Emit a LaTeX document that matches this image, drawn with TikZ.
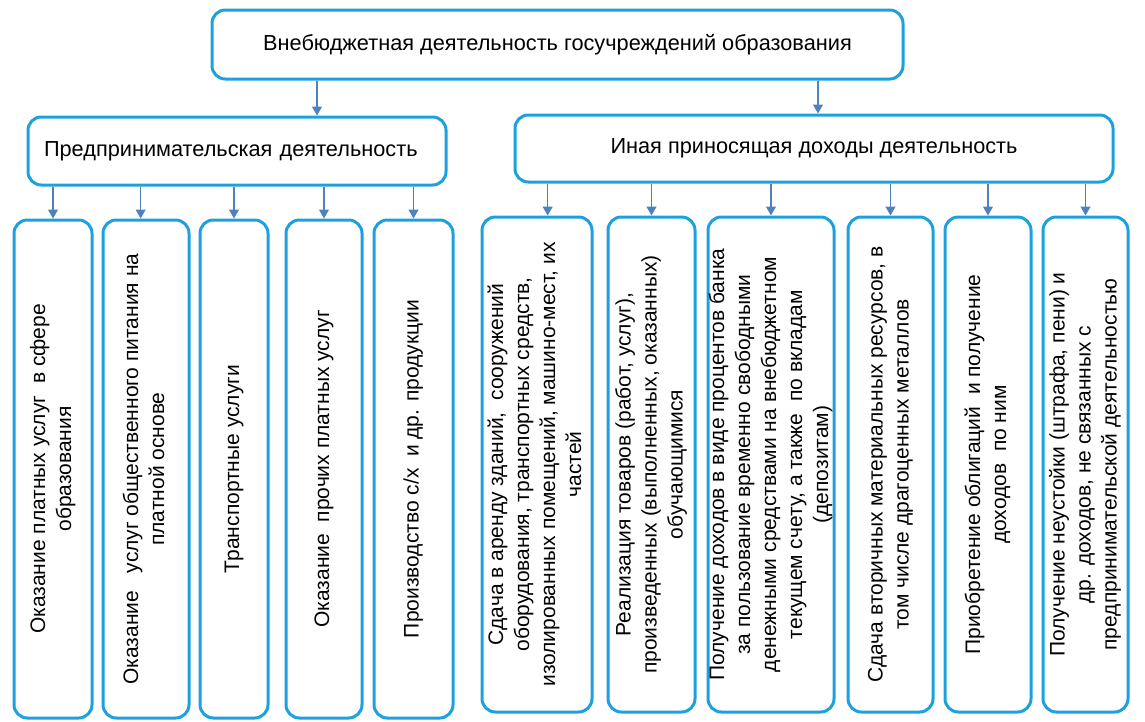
\documentclass[tikz,border=0pt]{standalone}
\usepackage{fontspec}
\setmainfont{Liberation Sans}
\usetikzlibrary{arrows.meta}
\definecolor{boxblue}{RGB}{29,161,222}
\definecolor{arrblue}{RGB}{79,129,189}
\newcommand{\vlines}[1]{\makebox[0pt]{\rotatebox{90}{\begin{tabular}{@{}c@{}}#1\end{tabular}}}}
\begin{document}
\begin{tikzpicture}[x=0.75pt,y=-0.75pt,
  box/.style={draw=boxblue, line width=2.25pt, rounded corners=10pt, inner sep=0pt, font=\fontsize{16.3pt}{19pt}\selectfont},
  leaf/.style={box, minimum height=373.5pt, font=\fontsize{15.75pt}{19.5pt}\selectfont},
  arr/.style={draw=arrblue, line width=0.9pt, -{Triangle[length=6.75pt,width=7.5pt]}}]
\useasboundingbox (0,0) rectangle (1145,721);
\node[box, minimum width=518.25pt, minimum height=51.75pt] (bid0) at (557.5,44.5){Внебюджетная деятельность госучреждений образования};
\node[box, minimum width=313.5pt, minimum height=51pt, text width=289.5pt, align=left, inner xsep=12pt] (bid1) at (237,151){Предпринимательская деятельность};
\node[box, minimum width=448.5pt, minimum height=50.25pt] (bid2) at (814,148.5){Иная приносящая доходы деятельность};
\draw[arr]([xshift=60pt]bid1.north |- bid0.south) -- ([xshift=60pt]bid1.north);
\draw[arr]([xshift=3pt]bid2.north |- bid0.south) -- ([xshift=3pt]bid2.north);
% предпринимательская
\node[leaf, minimum width=58.5pt] (bid3) at (53,469){\vlines{Оказание платных услуг\ \ в сфере\\образования}};
\node[leaf, minimum width=64.5pt] (bid4) at (146,469){\vlines{Оказание\ \ \ услуг общественного питания на\\платной основе}};
\node[leaf, minimum width=51pt] (bid5) at (234,469){\vlines{Транспортные услуги}};
\node[leaf, minimum width=57pt] (bid6) at (324,469){\vlines{Оказание\ \ прочих платных услуг}};
\node[leaf, minimum width=59.25pt] (bid7) at (413.5,469){\vlines{Производство с/х\ \ и др. продукции}};
\draw[arr](bid3.north |- bid1.south) -- (bid3.north);
\draw[arr]([xshift=-4pt]bid4.north |- bid1.south) -- ([xshift=-4pt]bid4.north);
\draw[arr](bid5.north |- bid1.south) -- (bid5.north);
\draw[arr](bid6.north |- bid1.south) -- (bid6.north);
\draw[arr](bid7.north |- bid1.south) -- (bid7.north);
% иная
\node[leaf, minimum width=82.5pt, minimum height=371.25pt] (bid8) at (537,464.5){\vlines{Сдача в аренду зданий,\ \ сооружений\\оборудования, транспортных средств,\\изолированных помещений, машино-мест, их\\частей}};
\node[leaf, minimum width=65.25pt, minimum height=371.25pt] (bid9) at (651.5,464.5){\vlines{Реализация товаров (работ, услуг),\\произведенных (выполненных, оказанных)\\обучающимися}};
\node[leaf, minimum width=94.5pt, minimum height=371.25pt] (bid10) at (771,464.5){\vlines{Получение доходов в виде процентов банка\\за пользование временно свободными\\денежными средствами на внебюджетном\\текущем счету, а также\ \ по вкладам\\(депозитам)}};
\node[leaf, minimum width=63.75pt, minimum height=371.25pt] (bid11) at (890.5,464.5){\vlines{Сдача вторичных материальных ресурсов, в\\том числе драгоценных металлов}};
\node[leaf, minimum width=64.5pt, minimum height=371.25pt] (bid12) at (988,464.5){\vlines{Приобретение облигаций\ \ и получение\\доходов\ \ по ним}};
\node[leaf, minimum width=63.75pt, minimum height=371.25pt] (bid13) at (1085.5,464.5){\vlines{Получение неустойки (штрафа, пени) и\\др. доходов, не связанных с\\предпринимательской деятельностью}};
\draw[arr]([xshift=8pt]bid8.north |- bid2.south) -- ([xshift=8pt]bid8.north);
\draw[arr](bid9.north |- bid2.south) -- (bid9.north);
\draw[arr](bid10.north |- bid2.south) -- (bid10.north);
\draw[arr](bid11.north |- bid2.south) -- (bid11.north);
\draw[arr](bid12.north |- bid2.south) -- (bid12.north);
\draw[arr](bid13.north |- bid2.south) -- (bid13.north);
\end{tikzpicture}
\end{document}
